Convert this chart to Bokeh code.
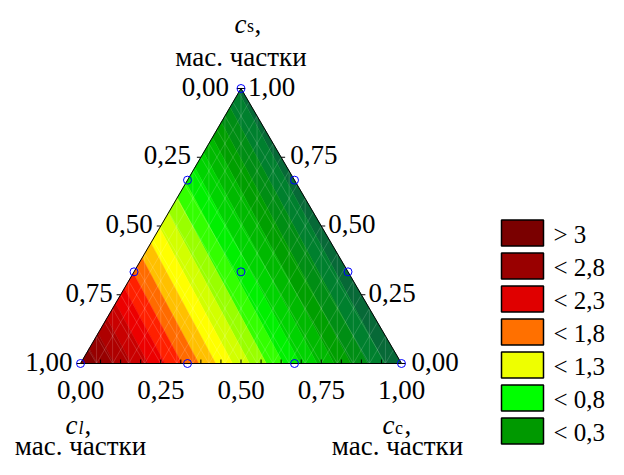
import numpy as np
from bokeh.plotting import figure
from bokeh.models import Range1d
from bokeh.core.properties import value
from bokeh.embed import file_html
from bokeh.resources import INLINE

# ---------------- data ----------------
# simplex-lattice design points: mass fractions c_l, c_s, c_c
design_cl = [1.0, 0.0, 0.0, 2/3, 1/3, 2/3, 1/3, 0.0, 0.0, 1/3]
design_cs = [0.0, 1.0, 0.0, 1/3, 2/3, 0.0, 0.0, 2/3, 1/3, 1/3]
design_cc = [0.0, 0.0, 1.0, 0.0, 0.0, 1/3, 2/3, 1/3, 2/3, 1/3]
design_resp = [3.20, -0.45, -0.60, 1.98, 0.77, 1.93, 0.67, -0.50, -0.55, 0.72]

tick_values = [0.0, 0.25, 0.5, 0.75, 1.0]
tick_labels = ["0,00", "0,25", "0,50", "0,75", "1,00"]
minor_ticks = [k / 16 for k in range(1, 16)]

legend_labels = ["> 3", "< 2,8", "< 2,3", "< 1,8", "< 1,3", "< 0,8", "< 0,3"]
legend_colors = ["#7a0000", "#990000", "#e00000", "#ff7000", "#eeff00", "#00ff00", "#009900"]

# continuous colour scale used for the surface (value -> colour)
scale_values = [-0.6, -0.3, 0.05, 0.45, 0.8, 1.1, 1.35, 1.5, 1.7, 1.85, 2.0, 2.2, 2.45, 2.8, 3.2]
scale_colors = ["#0b5e3c", "#00802e", "#009900", "#00cc00", "#00ff00", "#99ff00", "#e0ff00",
                "#ffff00", "#ffc000", "#ff8000", "#ff4000", "#ff0000", "#d00000", "#a00000",
                "#7d0000"]
band_step = 0.2

FONT = "Liberation Serif"

# ---------------- layout (canvas pixels) ----------------
PX_L, PX_R, PX_B, PX_T = 80.0, 401.0, 363.0, 88.0
SX, SY = PX_R - PX_L, PX_B - PX_T
W, H = 608, 459
TY = -8  # vertical text correction


def px2d(px, py):
    return (px - PX_L) / SX, (PX_B - py) / SY


def bary2xy(cl, cs, cc):
    return cc + cs / 2.0, cs


# ---------------- model fit (linear Scheffé) ----------------
A = np.column_stack([design_cl, design_cs, design_cc])
coef, *_ = np.linalg.lstsq(A, np.array(design_resp), rcond=None)


def hex2rgb(h):
    h = h.lstrip("#")
    return [int(h[i:i + 2], 16) for i in (0, 2, 4)]


rgb_stops = np.array([hex2rgb(c) for c in scale_colors], dtype=float)


def colour(v):
    r, g, b = (int(round(np.interp(v, scale_values, rgb_stops[:, k]))) for k in range(3))
    return "#%02x%02x%02x" % (r, g, b)


def clip(poly, vals, level, above):
    out_p, out_v = [], []
    n = len(poly)
    for i in range(n):
        p1, v1 = poly[i], vals[i]
        p2, v2 = poly[(i + 1) % n], vals[(i + 1) % n]
        in1 = v1 >= level if above else v1 <= level
        in2 = v2 >= level if above else v2 <= level
        if in1:
            out_p.append(p1)
            out_v.append(v1)
        if in1 != in2:
            t = (level - v1) / (v2 - v1)
            out_p.append(p1 + t * (p2 - p1))
            out_v.append(level)
    return out_p, out_v


verts = [np.array([1.0, 0.0, 0.0]), np.array([0.0, 1.0, 0.0]), np.array([0.0, 0.0, 1.0])]
vvals = [float(np.dot(coef, v)) for v in verts]
lo = np.floor(min(vvals) / band_step) * band_step
hi = np.ceil(max(vvals) / band_step) * band_step
levels = np.arange(lo, hi + band_step / 2, band_step)

band_xs, band_ys, band_col = [], [], []
for a, b in zip(levels[:-1], levels[1:]):
    pp, vv = clip(verts, vvals, a, True)
    if len(pp) < 3:
        continue
    pp, vv = clip(pp, vv, b, False)
    if len(pp) < 3:
        continue
    xs, ys = zip(*[bary2xy(*q) for q in pp])
    band_xs.append(list(xs))
    band_ys.append(list(ys))
    band_col.append(colour((a + b) / 2))

# ---------------- figure ----------------
x0, _ = px2d(0, 0)
x1, _ = px2d(W, 0)
_, y0 = px2d(0, H)
_, y1 = px2d(0, 0)
p = figure(width=W, height=H, x_range=Range1d(x0, x1), y_range=Range1d(y0, y1),
           output_backend="svg", toolbar_location=None, min_border=0)
p.axis.visible = False
p.grid.visible = False
p.outline_line_color = None
p.background_fill_color = "white"
p.border_fill_color = "white"

p.patches(band_xs, band_ys, fill_color=band_col, line_color=band_col, line_width=0.5)

# light mesh lines
N = 20
mx, my = [], []
for k in range(1, N):
    t = k / N
    mx.append([t, t]); my.append([0, 2 * t if t <= 0.5 else 2 * (1 - t)])
    xa, ya = bary2xy(1 - t, 0, t); xb, yb = bary2xy(0, 1 - t, t)
    mx.append([xa, xb]); my.append([ya, yb])
    xa, ya = bary2xy(t, 0, 1 - t); xb, yb = bary2xy(t, 1 - t, 0)
    mx.append([xa, xb]); my.append([ya, yb])
p.multi_line(mx, my, line_color="white", line_alpha=0.2, line_width=0.8)

# triangle outline
tx, ty = zip(*[bary2xy(*v) for v in verts])
p.patch(list(tx), list(ty), fill_color=None, line_color="black", line_width=1)

# minor ticks on the bottom axis (pointing inward)
p.segment(x0=minor_ticks, y0=[0] * len(minor_ticks), x1=minor_ticks,
          y1=[4 / SY] * len(minor_ticks), line_color="black", line_width=1)
# small ticks on the sloped axes
lx, ly = zip(*[bary2xy(t, 1 - t, 0) for t in tick_values])
rx, ry = zip(*[bary2xy(0, t, 1 - t) for t in tick_values])
p.segment(x0=list(lx), y0=list(ly), x1=[v - 4 / SX for v in lx], y1=list(ly),
          line_color="black", line_width=1)
p.segment(x0=list(rx), y0=list(ry), x1=[v + 4 / SX for v in rx], y1=list(ry),
          line_color="black", line_width=1)

# design points
dx, dy = zip(*[bary2xy(a, b, c) for a, b, c in zip(design_cl, design_cs, design_cc)])
p.scatter(list(dx), list(dy), marker="circle", size=8, fill_color=None,
          line_color="blue", line_width=1)

txt = dict(text_font=value(FONT), text_font_size="27px", text_color="black",
           text_baseline="alphabetic")

# left axis (c_l)
p.text(list(lx), list(ly), text=tick_labels, text_align="right",
       x_offset=[-12, -10, -8, -8, -8], y_offset=6 + TY, **txt)
# right axis (c_s)
p.text(list(rx), list(ry), text=tick_labels, text_align="left",
       x_offset=[10, 7, 7, 9, 7], y_offset=6 + TY, **txt)
# bottom axis (c_c)
bx, by = zip(*[bary2xy(1 - t, 0, t) for t in tick_values])
p.text(list(bx), list(by), text=tick_labels, text_align="center", x_offset=0,
       y_offset=34 + TY, **txt)

sub = dict(text_font=value(FONT), text_font_size="18px", text_color="black",
           text_baseline="alphabetic", text_align="left")

# top title c_s
ax, ay = bary2xy(0, 1, 0)
p.text([ax], [ay], text=["c"], text_align="right", x_offset=5.5, y_offset=-57 + TY,
       text_font_style="italic", **txt)
p.text([ax], [ay], text=["s"], x_offset=6, y_offset=-55 + TY, **sub)
p.text([ax], [ay], text=[","], text_align="left", x_offset=13.5, y_offset=-57 + TY, **txt)
p.text([ax], [ay], text=["мас. частки"], text_align="center", x_offset=0,
       y_offset=-24 + TY, **txt)

# bottom-left title c_l
ax, ay = bary2xy(1, 0, 0)
p.text([ax], [ay], text=["c"], text_align="right", x_offset=-3, y_offset=69 + TY,
       text_font_style="italic", **txt)
p.text([ax], [ay], text=["l"], x_offset=-2, y_offset=72 + TY, text_font_style="italic", **sub)
p.text([ax], [ay], text=[","], text_align="left", x_offset=4, y_offset=69 + TY, **txt)
p.text([ax], [ay], text=["мас. частки"], text_align="center", x_offset=0,
       y_offset=90 + TY, **txt)

# bottom-right title c_c
ax, ay = bary2xy(0, 0, 1)
p.text([ax], [ay], text=["c"], text_align="right", x_offset=-7, y_offset=69 + TY,
       text_font_style="italic", **txt)
p.text([ax], [ay], text=["c"], x_offset=-6.5, y_offset=72 + TY, **sub)
p.text([ax], [ay], text=[","], text_align="left", x_offset=3, y_offset=69 + TY, **txt)
p.text([ax], [ay], text=["мас. частки"], text_align="center", x_offset=-4,
       y_offset=90 + TY, **txt)

# legend
n_leg = len(legend_labels)
leg_py = [232.5 + 33 * i for i in range(n_leg)]
leg_box = [px2d(522, y) for y in leg_py]
leg_txt = [px2d(553, y) for y in leg_py]
p.rect([q[0] for q in leg_box], [q[1] for q in leg_box], width=42, height=26,
       width_units="screen", height_units="screen", fill_color=legend_colors,
       line_color="black", line_width=1.5)
leg_style = dict(txt, text_font_size="25px")
p.text([q[0] for q in leg_txt], [q[1] for q in leg_txt], text=legend_labels,
       text_align="left", y_offset=9 + TY, **leg_style)

open("out.html", "w").write(file_html(p, INLINE))
